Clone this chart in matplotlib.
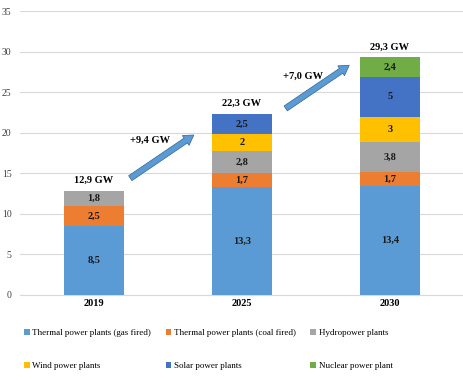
import numpy as np
import matplotlib.pyplot as plt

plt.rcParams['font.family'] = ['Liberation Serif', 'DejaVu Serif']

years = ["2019", "2025", "2030"]
gas = [8.5, 13.3, 13.4]
coal = [2.5, 1.7, 1.7]
hydro = [1.8, 2.8, 3.8]
wind = [0, 2, 3]
solar = [0, 2.5, 5]
nuclear = [0, 0, 2.4]
totals = ["12,9 GW", "22,3 GW", "29,3 GW"]
growth = ["+9,4 GW", "+7,0 GW"]

series = [
    ("Thermal power plants (gas fired)", gas, "#5B9BD5"),
    ("Thermal power plants (coal fired)", coal, "#ED7D31"),
    ("Hydropower plants", hydro, "#A5A5A5"),
    ("Wind power plants", wind, "#FFC000"),
    ("Solar power plants", solar, "#4472C4"),
    ("Nuclear power plant", nuclear, "#70AD47"),
]

fig = plt.figure(figsize=(4.64, 3.8), dpi=100)
ax = fig.add_axes([0.043, 0.224, 0.957, 0.747])

x = np.arange(len(years))
bottom = np.zeros(len(years))
for name, vals, col in series:
    vals = np.array(vals, dtype=float)
    ax.bar(x, vals, 0.4, bottom=bottom, color=col, label=name, zorder=3)
    for i, v in enumerate(vals):
        if v > 0:
            txt = ("%g" % v).replace(".", ",")
            ax.text(x[i], bottom[i] + v / 2, txt, ha="center", va="center",
                    fontsize=7.5, fontweight="bold", color="#1a1a1a", zorder=4)
    bottom += vals

ax.text(0, 14.1, totals[0], ha="center", va="center", fontsize=7.5, fontweight="bold")
ax.text(1, 23.6, totals[1], ha="center", va="center", fontsize=7.5, fontweight="bold")
ax.text(2, 30.5, totals[2], ha="center", va="center", fontsize=7.5, fontweight="bold")

# arrows between bars
astyle = "simple,head_length=0.7,head_width=0.85,tail_width=0.42"
ax.annotate("", xy=(0.69, 19.9), xytext=(0.23, 14.2),
            arrowprops=dict(arrowstyle=astyle, fc="#5B9BD5", ec="#41719C", lw=0.6))
ax.annotate("", xy=(1.74, 28.5), xytext=(1.28, 22.8),
            arrowprops=dict(arrowstyle=astyle, fc="#5B9BD5", ec="#41719C", lw=0.6))
ax.text(0.38, 19.0, growth[0], ha="center", va="center", fontsize=7.5, fontweight="bold")
ax.text(1.41, 27.0, growth[1], ha="center", va="center", fontsize=7.5, fontweight="bold")

ax.set_xlim(-0.5, 2.5)
ax.set_ylim(0, 35)
ax.set_yticks(range(0, 36, 5))
ax.set_xticks(x)
ax.set_xticklabels(years, fontweight="bold", fontsize=7.5)
ax.tick_params(axis="y", labelsize=7, length=0, colors="#404040", pad=6)
ax.tick_params(axis="x", length=0, pad=3)
ax.grid(axis="y", color="#D9D9D9", lw=0.8, zorder=0)
for s in ["top", "right", "left"]:
    ax.spines[s].set_visible(False)
ax.spines["bottom"].set_color("#D9D9D9")

h, l = ax.get_legend_handles_labels()
order = [0, 3, 1, 4, 2, 5]
fig.legend([h[i] for i in order], [l[i] for i in order], ncol=3,
           loc="upper left", bbox_to_anchor=(0.035, 0.155), frameon=False,
           fontsize=6.5, handlelength=0.6, handleheight=0.6, handletextpad=0.3,
           columnspacing=1.6, labelspacing=2.75)

fig.savefig("out.png", dpi=100)
